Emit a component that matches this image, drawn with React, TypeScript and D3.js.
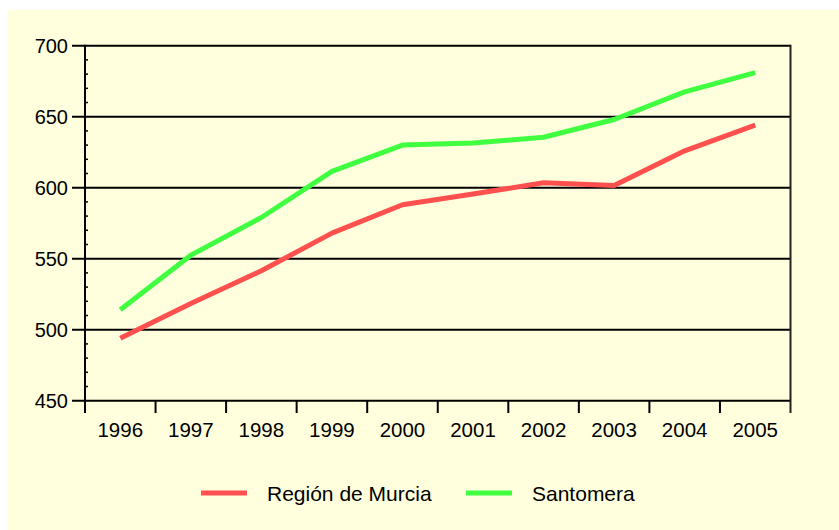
import React from "react";
import * as d3 from "d3";

const years = ["1996", "1997", "1998", "1999", "2000", "2001", "2002", "2003", "2004", "2005"];
const murcia = [494, 518.5, 541.5, 568, 588, 595.5, 603.5, 601.5, 626, 644];
const santomera = [514, 552.5, 579, 611.5, 630, 631.5, 635.5, 648, 667.5, 681];
const yTicks = [450, 500, 550, 600, 650, 700];
const seriesNames = ["Región de Murcia", "Santomera"];
const seriesColors = ["#FF5050", "#40FF40"];

export default function App() {
  const W = 839, H = 530;
  const left = 85, right = 790.5, top = 45.7, bottom = 400.7;
  const x = d3.scaleBand<string>().domain(years).range([left, right]).padding(0);
  const y = d3.scaleLinear().domain([450, 700]).range([bottom, top]);
  const cx = (d: string) => (x(d) as number) + x.bandwidth() / 2;
  const line = d3.line<number>().x((_, i) => cx(years[i])).y((v) => y(v));
  const minor = d3.range(450, 700, 10).filter((v) => v % 50 !== 0);
  const font = "'Liberation Sans', Arial, sans-serif";
  const series = [murcia, santomera];
  const legendX = [201, 466];

  return (
    <svg width={W} height={H} style={{ position: "absolute", left: 0, top: 0 }} fontFamily={font}>
      <rect x={0} y={0} width={W} height={H} fill="#ffffff" />
      <rect x={8} y={10} width={W - 8} height={H - 10} fill="#FFFFDD" />
      {yTicks.map((t) => (
        <line key={t} x1={72} x2={right} y1={y(t)} y2={y(t)} stroke="#000" strokeWidth={2} />
      ))}
      {minor.map((t) => (
        <line key={"m" + t} x1={left} x2={left + 3} y1={y(t)} y2={y(t)} stroke="#000" strokeWidth={1.5} />
      ))}
      <line x1={left} x2={left} y1={top - 1} y2={413} stroke="#000" strokeWidth={2} />
      <line x1={right} x2={right} y1={top - 1} y2={413} stroke="#222" strokeWidth={2} />
      {years.map((d, i) =>
        i > 0 ? (
          <line key={"xt" + d} x1={x(d) as number} x2={x(d) as number} y1={bottom} y2={413} stroke="#000" strokeWidth={2} />
        ) : null
      )}
      {yTicks.map((t) => (
        <text key={"yl" + t} x={68} y={y(t) + 7} textAnchor="end" fontSize={20} fill="#000">
          {t}
        </text>
      ))}
      {years.map((d) => (
        <text key={"xl" + d} x={cx(d)} y={437} textAnchor="middle" fontSize={20.5} fill="#000">
          {d}
        </text>
      ))}
      {series.map((s, i) => (
        <path key={"s" + i} d={line(s) as string} fill="none" stroke={seriesColors[i]} strokeWidth={5} strokeLinejoin="round" />
      ))}
      {seriesNames.map((n, i) => (
        <g key={"lg" + i}>
          <line x1={legendX[i]} x2={legendX[i] + 46} y1={493} y2={493} stroke={seriesColors[i]} strokeWidth={5} />
          <text x={legendX[i] + 66} y={500.5} fontSize={21} fill="#000">
            {n}
          </text>
        </g>
      ))}
    </svg>
  );
}
